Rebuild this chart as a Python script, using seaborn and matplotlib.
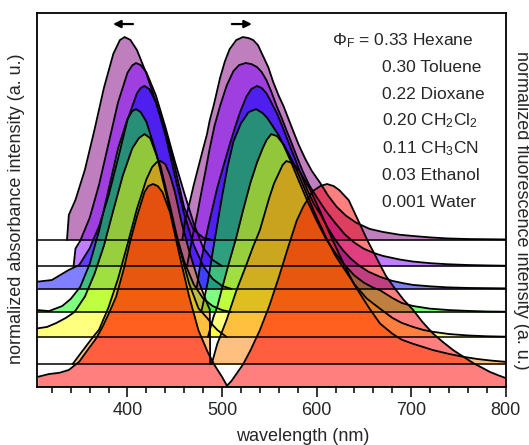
import numpy as np
import matplotlib
matplotlib.use("Agg")
import matplotlib.pyplot as plt
import seaborn as sns

# ---------------- data ----------------
solvents = ["Hexane", "Toluene", "Dioxane", "CH2Cl2", "CH3CN", "Ethanol", "Water"]
solvent_labels = ["Hexane", "Toluene", "Dioxane", r"CH$_2$Cl$_2$", r"CH$_3$CN", "Ethanol", "Water"]
quantum_yields = ["0.33", "0.30", "0.22", "0.20", "0.11", "0.03", "0.001"]
offsets = [0.724, 0.596, 0.483, 0.369, 0.246, 0.113, 0.0]
fill_colors = ["#800080", "#8000ff", "#0000ff", "#00ff00", "#ffff00", "#ff8000", "#ff0000"]
x_major_ticks = [400, 500, 600, 700, 800]

hexane_abs_nm = [336, 338, 345, 355, 365, 375, 385, 392, 397, 403, 410, 420, 430, 440, 450, 460, 470, 480, 490]
hexane_abs = [0, 0.124, 0.198, 0.347, 0.541, 0.748, 0.917, 0.985, 1.0, 0.986, 0.936, 0.82, 0.68, 0.54, 0.36, 0.16, 0.05, 0.012, 0.0]
hexane_em_nm = [458, 461, 466, 470, 475, 480, 484, 487, 491, 495, 498, 503, 508, 515, 522, 528, 533, 538, 543, 549,
                554, 560, 565, 570, 575, 581, 588, 595, 604, 612, 621, 631, 642, 656, 670, 688, 702, 720, 738, 760, 780, 800]
hexane_em = [0, 0.10, 0.19, 0.27, 0.36, 0.45, 0.52, 0.59, 0.66, 0.74, 0.80, 0.88, 0.94, 0.985, 1.0, 0.995, 0.985, 0.96, 0.91, 0.85,
             0.78, 0.71, 0.66, 0.60, 0.54, 0.47, 0.40, 0.34, 0.28, 0.22, 0.165, 0.12, 0.085, 0.055, 0.04, 0.026, 0.02, 0.013, 0.008, 0.005, 0.004, 0.003]

toluene_abs_nm = [343, 345, 350, 360, 370, 380, 390, 400, 405, 409, 414, 420, 430, 440, 450, 460, 470, 480, 490, 500]
toluene_abs = [0, 0.086, 0.124, 0.237, 0.402, 0.604, 0.806, 0.952, 0.988, 1.0, 0.99, 0.954, 0.841, 0.686, 0.517, 0.36, 0.21, 0.09, 0.03, 0.0]
toluene_em_nm = [463, 469, 474, 478, 483, 487, 492, 498, 505, 512, 518, 525, 531, 537, 542, 547, 552, 558, 563, 568,
                 574, 579, 585, 592, 600, 610, 620, 630, 640, 650, 660, 670, 688, 702, 720, 738, 760, 780, 800]
toluene_em = [0, 0.15, 0.26, 0.36, 0.48, 0.58, 0.69, 0.79, 0.89, 0.96, 0.99, 1.0, 0.995, 0.98, 0.955, 0.915, 0.86, 0.785, 0.73, 0.67,
              0.60, 0.54, 0.47, 0.40, 0.34, 0.27, 0.21, 0.155, 0.115, 0.085, 0.065, 0.05, 0.032, 0.022, 0.014, 0.009, 0.005, 0.003, 0.0015]

dioxane_abs_nm = [305, 320, 338, 349, 360, 370, 380, 390, 400, 410, 414, 418, 423, 430, 440, 450, 460, 470, 480, 490, 500, 510]
dioxane_abs = [0.036, 0.044, 0.094, 0.118, 0.2, 0.31, 0.46, 0.642, 0.833, 0.964, 0.99, 1.0, 0.985, 0.922, 0.76, 0.56, 0.369, 0.217, 0.114, 0.05, 0.015, 0.0]
dioxane_em_nm = [473, 477, 485, 495, 503, 508, 514, 519, 526, 531, 537, 542, 547, 552, 558, 563, 568, 573, 577, 583,
                 590, 597, 605, 612, 620, 628, 636, 645, 655, 667, 680, 692, 702, 720, 738, 760, 780, 800]
dioxane_em = [0, 0.12, 0.30, 0.50, 0.63, 0.71, 0.80, 0.87, 0.95, 0.985, 1.0, 0.99, 0.964, 0.92, 0.866, 0.81, 0.75, 0.69, 0.644, 0.57,
              0.49, 0.42, 0.36, 0.30, 0.24, 0.19, 0.15, 0.115, 0.085, 0.06, 0.04, 0.028, 0.02, 0.013, 0.008, 0.005, 0.004, 0.003]

ch2cl2_abs_nm = [305, 317, 331, 340, 350, 360, 370, 380, 390, 400, 405, 409, 414, 420, 430, 440, 450, 460, 470, 480, 490, 500, 510]
ch2cl2_abs = [0.01, 0.005, 0.03, 0.065, 0.124, 0.237, 0.402, 0.604, 0.806, 0.952, 0.99, 1.0, 0.985, 0.937, 0.79, 0.598, 0.407, 0.249, 0.137, 0.067, 0.03, 0.01, 0.0]
ch2cl2_em_nm = [478, 485, 492, 500, 506, 512, 520, 528, 536, 543, 548, 554, 560, 565, 572, 580, 590, 600, 610, 620,
                630, 640, 650, 660, 667, 680, 690, 702, 720, 740, 760, 780, 800]
ch2cl2_em = [0, 0.15, 0.35, 0.57, 0.72, 0.84, 0.93, 0.985, 1.0, 0.98, 0.955, 0.913, 0.87, 0.823, 0.75, 0.66, 0.55, 0.45, 0.36, 0.29,
             0.23, 0.18, 0.145, 0.12, 0.108, 0.07, 0.045, 0.03, 0.017, 0.01, 0.006, 0.003, 0.002]

ch3cn_abs_nm = [305, 315, 325, 335, 342, 345, 355, 365, 375, 385, 395, 405, 412, 418, 424, 435, 445, 455, 465, 475, 485, 490, 495, 505]
ch3cn_abs = [0.043, 0.05, 0.07, 0.095, 0.117, 0.13, 0.2, 0.31, 0.449, 0.624, 0.795, 0.929, 0.98, 1.0, 0.98, 0.841, 0.646, 0.44, 0.266, 0.142, 0.09, 0.06, 0.035, 0.0]
ch3cn_em_nm = [485, 491, 495, 500, 507, 515, 522, 530, 537, 543, 547, 552, 558, 565, 572, 580, 590, 600, 610, 620,
               630, 640, 653, 667, 680, 690, 702, 713, 723, 740, 760, 780, 800]
ch3cn_em = [0, 0.1, 0.15, 0.24, 0.36, 0.49, 0.62, 0.76, 0.86, 0.93, 0.97, 1.0, 0.99, 0.95, 0.89, 0.81, 0.70, 0.59, 0.49, 0.40,
            0.33, 0.26, 0.19, 0.14, 0.095, 0.07, 0.05, 0.035, 0.026, 0.015, 0.008, 0.004, 0.002]

ethanol_abs_nm = [342, 350, 363, 370, 380, 390, 400, 410, 420, 426, 431, 435, 440, 445, 450, 457, 465, 475, 485, 487, 487.5]
ethanol_abs = [0.0, 0.05, 0.13, 0.17, 0.28, 0.42, 0.59, 0.765, 0.91, 0.97, 0.995, 1.0, 0.985, 0.93, 0.85, 0.70, 0.56, 0.41, 0.29, 0.27, 0.0]
ethanol_em_nm = [489, 495, 505, 515, 525, 533, 540, 545, 550, 555, 560, 564, 568, 575, 582, 593, 605, 615, 628, 640,
                 655, 667, 680, 690, 702, 723, 740, 755, 770, 785, 800]
ethanol_em = [0, 0.1, 0.22, 0.36, 0.48, 0.58, 0.66, 0.74, 0.82, 0.89, 0.94, 0.98, 1.0, 0.99, 0.95, 0.86, 0.74, 0.63, 0.50, 0.39,
              0.28, 0.2, 0.15, 0.12, 0.10, 0.069, 0.05, 0.036, 0.025, 0.017, 0.011]

water_abs_nm = [305, 317, 328, 338, 349, 359, 367, 374, 381, 388, 396, 403, 410, 418, 422, 427, 432, 437, 445, 455, 465, 475, 485, 492, 500, 506]
water_abs = [0.05, 0.064, 0.07, 0.084, 0.125, 0.19, 0.24, 0.3, 0.37, 0.445, 0.58, 0.72, 0.84, 0.96, 0.99, 1.0, 0.99, 0.96, 0.86, 0.65, 0.45, 0.28, 0.17, 0.108, 0.05, 0.0]
water_em_nm = [504, 510, 516, 522, 530, 540, 550, 560, 570, 579, 586, 596, 604, 611, 618, 624, 634, 644, 654, 664,
               673, 682, 692, 702, 712, 723, 734, 745, 755, 766, 775, 783, 792, 800]
water_em = [0, 0.03, 0.07, 0.11, 0.18, 0.28, 0.40, 0.54, 0.69, 0.82, 0.89, 0.965, 0.99, 1.0, 0.99, 0.97, 0.92, 0.82, 0.72, 0.63,
            0.55, 0.49, 0.43, 0.38, 0.32, 0.264, 0.22, 0.18, 0.15, 0.117, 0.095, 0.075, 0.058, 0.044]

spectra = [
    (hexane_abs_nm, hexane_abs, hexane_em_nm, hexane_em),
    (toluene_abs_nm, toluene_abs, toluene_em_nm, toluene_em),
    (dioxane_abs_nm, dioxane_abs, dioxane_em_nm, dioxane_em),
    (ch2cl2_abs_nm, ch2cl2_abs, ch2cl2_em_nm, ch2cl2_em),
    (ch3cn_abs_nm, ch3cn_abs, ch3cn_em_nm, ch3cn_em),
    (ethanol_abs_nm, ethanol_abs, ethanol_em_nm, ethanol_em),
    (water_abs_nm, water_abs, water_em_nm, water_em),
]

# ---------------- style ----------------
sns.set_theme(style="white")
plt.rcParams["font.family"] = ["Liberation Sans", "DejaVu Sans"]
plt.rcParams["mathtext.fontset"] = "custom"
plt.rcParams["mathtext.rm"] = "Liberation Sans"
plt.rcParams["mathtext.it"] = "Liberation Sans:italic"
plt.rcParams["mathtext.bf"] = "Liberation Sans:bold"

fig = plt.figure(figsize=(5.29, 4.45), dpi=100)
ax = fig.add_axes([0.0694, 0.1303, 0.8866, 0.8412])

for (a_nm, a_y, e_nm, e_y), off, col in zip(spectra, offsets, fill_colors):
    a_nm = np.asarray(a_nm, float); a_y = np.asarray(a_y, float) + off
    e_nm = np.asarray(e_nm, float); e_y = np.asarray(e_y, float) + off
    ax.fill_between(a_nm, off, a_y, color=col, alpha=0.5, lw=0)
    ax.fill_between(e_nm, off, e_y, color=col, alpha=0.5, lw=0)
    sns.lineplot(x=a_nm, y=a_y, color="black", lw=1.3, ax=ax, estimator=None, sort=False)
    sns.lineplot(x=e_nm, y=e_y, color="black", lw=1.3, ax=ax, estimator=None, sort=False)
    ax.axhline(off, color="black", lw=1.1)

ax.set_xlim(304, 800)
ax.set_ylim(0, 1.844)
ax.set_yticks([])
ax.set_xticks(x_major_ticks)
ax.set_xticklabels([str(t) for t in x_major_ticks], fontsize=13)
ax.set_xticks(np.arange(320, 800, 20), minor=True)
ax.tick_params(axis="x", which="major", direction="out", length=7, width=1.1, color="black", pad=4, bottom=True)
ax.tick_params(axis="x", which="minor", direction="out", length=4.5, width=1.1, color="black", bottom=True)
for s in ax.spines.values():
    s.set_color("black")
    s.set_linewidth(1.3)

# arrows
ax.annotate("", xy=(384.7, 1.788), xytext=(405.8, 1.788),
            arrowprops=dict(arrowstyle="-|>", color="black", lw=1.6, mutation_scale=11, shrinkA=0, shrinkB=0))
ax.annotate("", xy=(531.6, 1.788), xytext=(510.4, 1.788),
            arrowprops=dict(arrowstyle="-|>", color="black", lw=1.6, mutation_scale=11, shrinkA=0, shrinkB=0))

# quantum-yield list
base_y = [45, 71.7, 99, 125.5, 153.3, 180, 206.7]
for i, (q, lab) in enumerate(zip(quantum_yields, solvent_labels)):
    yf = (387 - base_y[i]) / 374.3
    if i == 0:
        ax.text(0.629, yf, r"$\Phi_{\mathrm{F}}$ = " + q + " " + lab, transform=ax.transAxes,
                fontsize=12.5, ha="left", va="baseline")
    else:
        ax.text(0.7356, yf, q + " " + lab, transform=ax.transAxes,
                fontsize=12.5, ha="left", va="baseline")

fig.text(0.573, 0.02, "wavelength (nm)", fontsize=13, ha="center", va="center")
fig.text(0.032, 0.532, "normalized absorbance intensity (a. u.)", fontsize=13, rotation=90, ha="center", va="center")
fig.text(0.985, 0.528, "normalized fluorescence intensity (a. u.)", fontsize=13, rotation=-90, ha="center", va="center")

fig.savefig("out.png", dpi=100)
